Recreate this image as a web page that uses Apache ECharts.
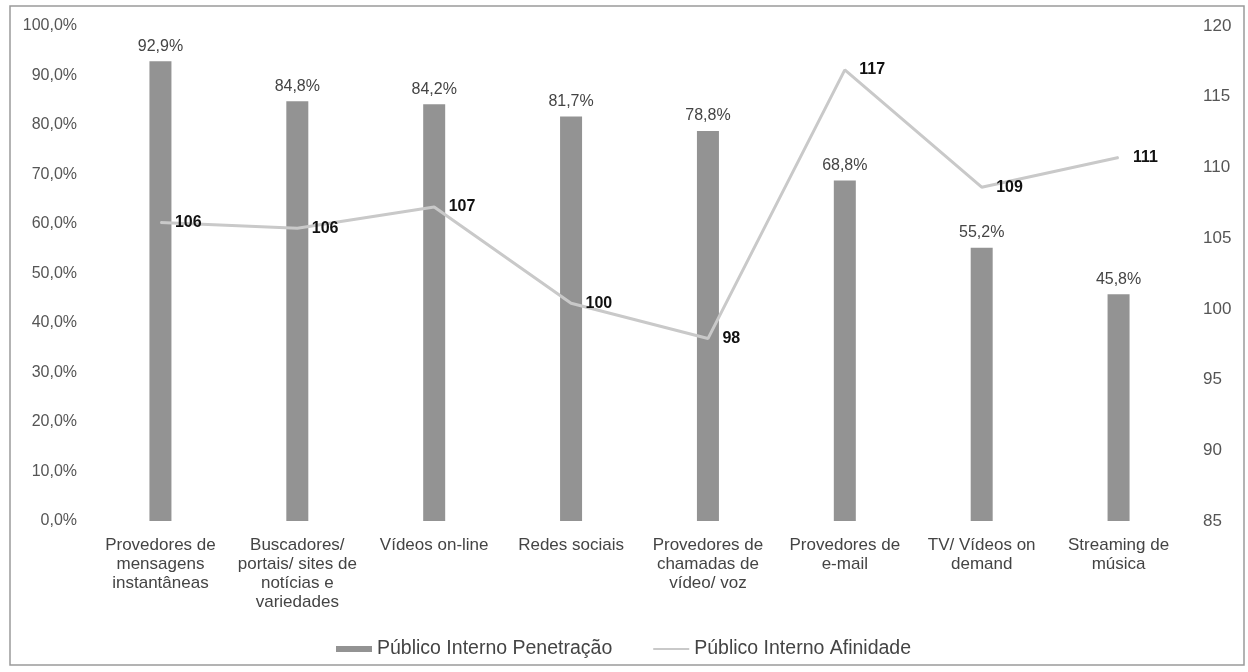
<!DOCTYPE html>
<html>
<head>
<meta charset="utf-8">
<script src="https://cdn.jsdelivr.net/npm/echarts@6/dist/echarts.min.js"></script>
<style>
  html, body { margin: 0; padding: 0; background: #fff; }
  #chart { width: 1248px; height: 672px; }
</style>
</head>
<body>
<div id="chart"></div>
<script>
const categories = [
  'Provedores de\nmensagens\ninstantâneas',
  'Buscadores/\nportais/ sites de\nnotícias e\nvariedades',
  'Vídeos on-line',
  'Redes sociais',
  'Provedores de\nchamadas de\nvídeo/ voz',
  'Provedores de\ne-mail',
  'TV/ Vídeos on\ndemand',
  'Streaming de\nmúsica'
]
const penetracao = [92.9, 84.8, 84.2, 81.7, 78.8, 68.8, 55.2, 45.8]
const afinidade = [106.1, 105.7, 107.2, 100.4, 97.9, 116.9, 108.6, 110.7]
const leftTicks = [0, 100, 10]
const rightTicks = [85, 120, 5]

let fontColor = '#555'
let chart = echarts.init(document.getElementById('chart'))

let option = {
  backgroundColor: '#fff',
  textStyle: { fontFamily: 'Liberation Sans, Arial, sans-serif' },
  graphic: [{
    type: 'rect',
    shape: { x: 10, y: 6, width: 1234, height: 659 },
    style: { fill: 'none', stroke: '#9a9a9a', lineWidth: 1.5 },
    silent: true
  }],
  grid: { left: 92, right: 61, top: 26, bottom: 151 },
  legend: {
    top: 634,
    left: 331,
    itemWidth: 36,
    itemHeight: 6,
    itemGap: 40,
    textStyle: { fontSize: 19.5, color: '#444' },
    data: [
      { name: 'Público Interno Penetração', icon: 'rect' },
      { name: 'Público Interno Afinidade', itemStyle: { opacity: 0 } }
    ]
  },
  xAxis: [{
    type: 'category',
    data: categories,
    axisLine: { show: false },
    axisTick: { show: false },
    axisLabel: {
      interval: 0,
      margin: 15,
      color: '#444',
      fontSize: 17,
      lineHeight: 19
    }
  }],
  yAxis: [{
    type: 'value',
    min: leftTicks[0],
    max: leftTicks[1],
    interval: leftTicks[2],
    axisLine: { show: false },
    axisTick: { show: false },
    splitLine: { show: false },
    axisLabel: {
      margin: 15,
      color: fontColor,
      fontSize: 16,
      formatter: v => v.toFixed(1).replace('.', ',') + '%'
    }
  }, {
    type: 'value',
    min: rightTicks[0],
    max: rightTicks[1],
    interval: rightTicks[2],
    position: 'right',
    axisLine: { show: false },
    axisTick: { show: false },
    splitLine: { show: false },
    axisLabel: {
      margin: 16,
      color: fontColor,
      fontSize: 17
    }
  }],
  series: [{
    name: 'Público Interno Penetração',
    type: 'bar',
    data: penetracao,
    barWidth: 22,
    itemStyle: { color: '#939393' },
    label: {
      show: true,
      position: 'top',
      distance: 7,
      color: '#444',
      fontSize: 16,
      formatter: p => p.value.toFixed(1).replace('.', ',') + '%'
    }
  }, {
    name: 'Público Interno Afinidade',
    type: 'line',
    yAxisIndex: 1,
    data: afinidade,
    symbol: 'circle',
    symbolSize: 1,
    lineStyle: { color: '#c9c9c9', width: 3 },
    itemStyle: { color: '#c9c9c9' },
    label: {
      show: true,
      position: 'right',
      distance: 14,
      color: '#111',
      fontWeight: 'bold',
      fontSize: 16,
      formatter: p => Math.round(p.value)
    },
    z: 3
  }]
}

chart.setOption(option)
</script>
</body>
</html>
